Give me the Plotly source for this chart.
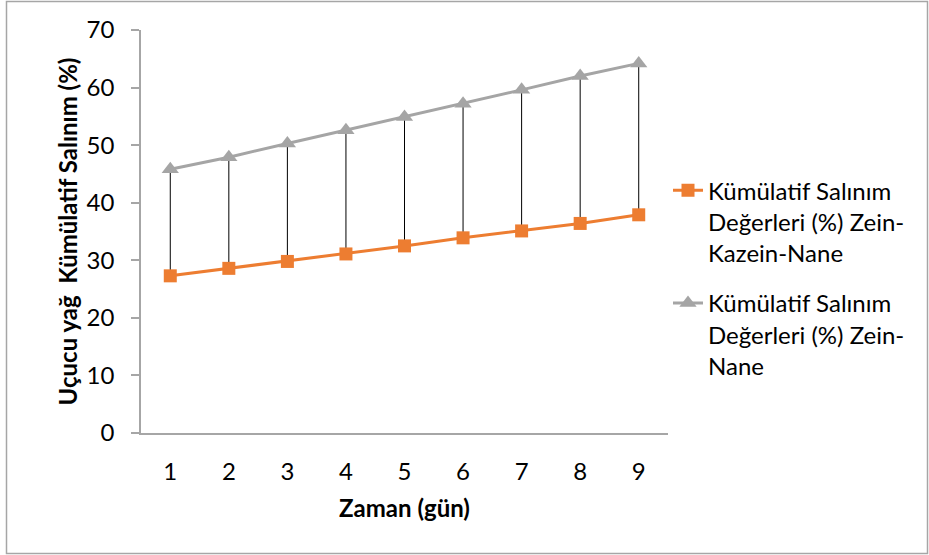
import plotly.graph_objects as go

days = [1, 2, 3, 4, 5, 6, 7, 8, 9]
zein_kazein_nane = [27.3, 28.6, 29.8, 31.1, 32.5, 33.9, 35.1, 36.4, 37.9]
zein_nane = [45.8, 47.9, 50.3, 52.6, 54.9, 57.2, 59.6, 62.0, 64.2]

name1 = "Kümülatif Salınım<br>Değerleri (%) Zein-<br>Kazein-Nane"
name2 = "Kümülatif Salınım<br>Değerleri (%) Zein-<br>Nane"

FONT = "Lato"
FS = 24

# high-low drop lines
hx, hy = [], []
for d, lo, hi in zip(days, zein_kazein_nane, zein_nane):
    hx += [d, d, None]
    hy += [lo, hi, None]

fig = go.Figure()
fig.add_trace(go.Scatter(x=hx, y=hy, mode="lines", line=dict(color="black", width=1),
                         showlegend=False, hoverinfo="skip"))
fig.add_trace(go.Scatter(x=days, y=zein_kazein_nane, name=name1, mode="lines+markers",
                         legendgroup="a",
                         line=dict(color="#ED7D31", width=3),
                         marker=dict(symbol="square", size=13, color="#ED7D31")))
fig.add_trace(go.Scatter(x=days, y=zein_nane, name=name2, mode="lines+markers",
                         legendgroup="b",
                         line=dict(color="#A5A5A5", width=3),
                         marker=dict(symbol="triangle-up", size=15, color="#A5A5A5")))

fig.update_layout(
    width=929, height=555,
    margin=dict(l=141, r=261, t=30, b=122),
    paper_bgcolor="white", plot_bgcolor="white",
    font=dict(family=FONT, size=FS, color="black"),
    showlegend=True,
    legend=dict(x=1.0, y=0.657, xanchor="left", yanchor="top", valign="top",
                font=dict(family=FONT, size=FS, color="black"),
                tracegroupgap=16, itemwidth=30, bgcolor="rgba(0,0,0,0)"),
    xaxis=dict(range=[0.5, 9.5], tickmode="array", tickvals=days,
               ticktext=[str(d) for d in days], ticks="", showgrid=False,
               showline=True, linecolor="#A6A6A6", linewidth=1.5, zeroline=False,
               tickfont=dict(family=FONT, size=FS), ticklabelstandoff=16,
               title=dict(text="<b>Zaman (gün)</b>", font=dict(family=FONT, size=FS), standoff=17)),
    yaxis=dict(range=[0, 70], dtick=10, ticks="outside", ticklen=8, tickcolor="#A6A6A6",
               tickwidth=1.5, showgrid=False, showline=True, linecolor="#A6A6A6", linewidth=1.5,
               zeroline=False, tickfont=dict(family=FONT, size=FS), ticklabelstandoff=12,
               title=dict(text="<b>Uçucu yağ  Kümülatif Salınım (%)</b>",
                          font=dict(family=FONT, size=FS), standoff=2)),
    shapes=[dict(type="rect", xref="paper", yref="paper",
                 x0=(6.5 - 141) / 527, x1=(927.5 - 141) / 527,
                 y0=(433 - 553.5) / 403, y1=(433 - 1.5) / 403,
                 line=dict(color="#A6A6A6", width=1.5), fillcolor="rgba(0,0,0,0)", layer="below")],
)

fig.write_html("out.html", config={"displayModeBar": False},
               post_script="document.body.style.margin='0';")
